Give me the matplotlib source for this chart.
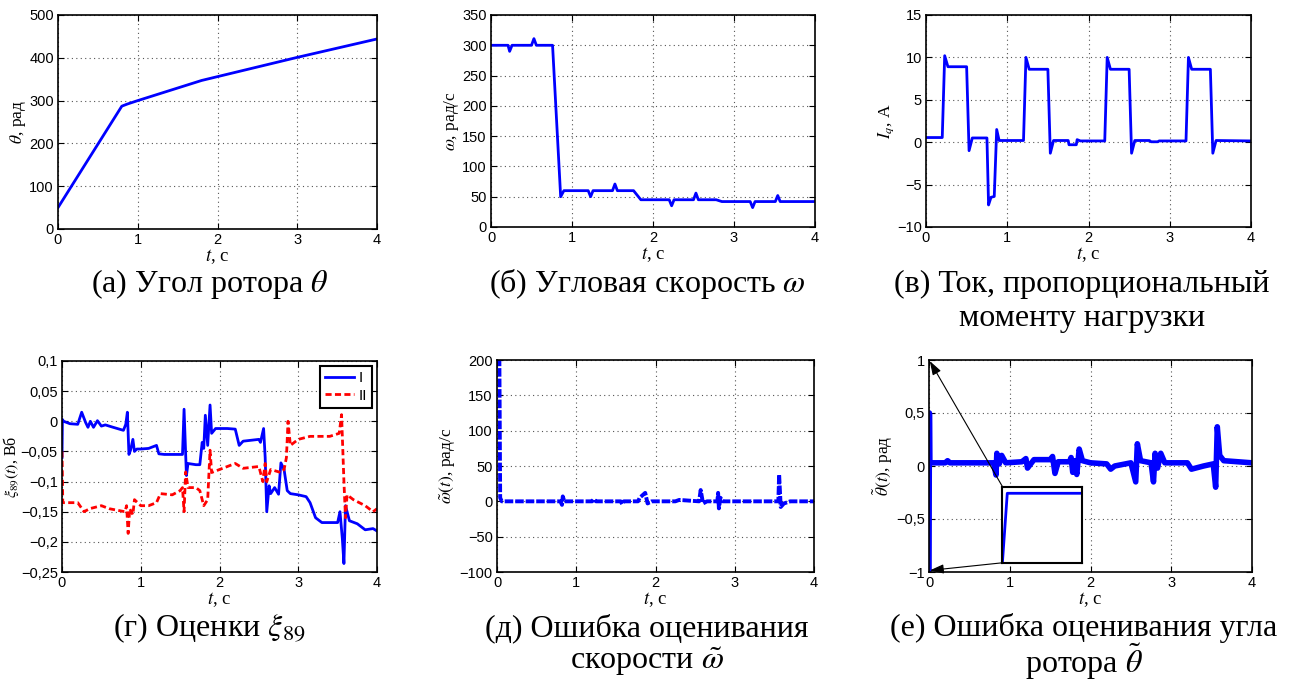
import matplotlib
matplotlib.use('Agg')
import matplotlib.pyplot as plt
from matplotlib.ticker import FuncFormatter

plt.rcParams['font.family'] = ['Liberation Sans', 'DejaVu Sans']
plt.rcParams['mathtext.fontset'] = 'stix'

# (а) rotor angle
t_theta = [0, 0.8, 0.87, 1.0, 1.8, 2.0, 2.8, 3.0, 4.0]
theta = [50, 287, 292, 300, 347, 356, 392, 401, 444]

# (б) angular speed
t_omega = [0, 0.21, 0.23, 0.26, 0.5, 0.53, 0.56, 0.76, 0.86, 0.9, 1.2, 1.23, 1.26, 1.5, 1.53,
           1.56, 1.76, 1.85, 2.2, 2.23, 2.26, 2.5, 2.53, 2.56, 2.78, 2.85, 3.2, 3.23, 3.26,
           3.51, 3.54, 3.57, 4.0]
omega = [300, 300, 290, 300, 300, 311, 300, 300, 50, 60, 60, 50, 60, 60, 71,
         60, 60, 45, 45, 35, 45, 45, 56, 45, 45, 42, 42, 32, 42,
         42, 52, 42, 42]

# (в) current Iq
t_iq = [0, 0.2, 0.23, 0.27, 0.5, 0.53, 0.57, 0.75, 0.77, 0.8, 0.84, 0.87, 0.9, 1.2, 1.23, 1.27,
        1.5, 1.53, 1.57, 1.75, 1.76, 1.85, 1.86, 1.9, 2.2, 2.23, 2.27, 2.5, 2.53, 2.57, 2.75,
        2.77, 2.85, 2.87, 3.2, 3.23, 3.27, 3.5, 3.53, 3.57, 4.0]
iq = [0.55, 0.55, 10.2, 8.9, 8.9, -1.0, 0.5, 0.5, -7.4, -6.5, -6.4, 1.5, 0.2, 0.2, 10.0, 8.6,
      8.6, -1.3, 0.2, 0.2, -0.3, -0.3, 0.3, 0.15, 0.15, 10.0, 8.6, 8.6, -1.3, 0.2, 0.2,
      0.05, 0.05, 0.15, 0.15, 10.0, 8.6, 8.6, -1.3, 0.2, 0.15]

# (г) estimates xi_89, variant I
t_xi1 = [0, 0.005, 0.02, 0.1, 0.2, 0.25, 0.3, 0.33, 0.36, 0.4, 0.45, 0.5, 0.55, 0.65, 0.78, 0.81,
         0.83, 0.85, 0.87, 0.9, 0.92, 0.95, 1.0, 1.1, 1.2, 1.23, 1.3, 1.45, 1.53, 1.55, 1.58,
         1.6, 1.7, 1.75, 1.78, 1.8, 1.82, 1.85, 1.88, 1.9, 1.95, 2.1, 2.2, 2.25, 2.3, 2.5, 2.52,
         2.56, 2.58, 2.6, 2.63, 2.65, 2.7, 2.75, 2.78, 2.82, 2.86, 2.9, 3.0, 3.1, 3.15, 3.22,
         3.3, 3.5, 3.53, 3.56, 3.58, 3.6, 3.65, 3.75, 3.85, 3.95, 4.0]
xi1 = [-0.06, 0.003, 0.0, -0.004, -0.005, 0.015, -0.002, -0.01, 0.0, -0.01, 0.001, -0.008,
       -0.006, -0.01, -0.015, -0.005, 0.015, -0.055, -0.048, -0.03, -0.05, -0.046, -0.046,
       -0.045, -0.04, -0.054, -0.055, -0.055, -0.055, 0.02, -0.09, -0.07, -0.072, -0.072,
       -0.035, -0.045, 0.01, -0.04, 0.027, -0.02, -0.012, -0.012, -0.013, -0.04, -0.033, -0.03,
       -0.035, -0.012, -0.06, -0.15, -0.107, -0.12, -0.11, -0.121, -0.069, -0.08, -0.115,
       -0.12, -0.122, -0.125, -0.135, -0.16, -0.168, -0.168, -0.15, -0.195, -0.236, -0.14,
       -0.165, -0.17, -0.18, -0.178, -0.182]

# (г) estimates xi_89, variant II
t_xi2 = [0, 0.01, 0.2, 0.28, 0.35, 0.5, 0.6, 0.8, 0.82, 0.84, 0.86, 0.9, 0.92, 1.0, 1.1, 1.2,
         1.25, 1.4, 1.5, 1.53, 1.55, 1.57, 1.6, 1.7, 1.75, 1.8, 1.85, 1.88, 1.9, 2.0, 2.2, 2.3,
         2.5, 2.55, 2.58, 2.6, 2.65, 2.78, 2.82, 2.85, 2.87, 2.9, 3.0, 3.15, 3.4, 3.52, 3.55,
         3.58, 3.6, 3.62, 3.7, 3.85, 3.95, 4.0]
xi2 = [-0.05, -0.135, -0.135, -0.15, -0.145, -0.14, -0.145, -0.15, -0.14, -0.186, -0.145,
       -0.155, -0.13, -0.14, -0.14, -0.135, -0.12, -0.122, -0.115, -0.11, -0.15, -0.084,
       -0.11, -0.11, -0.115, -0.14, -0.13, -0.048, -0.085, -0.08, -0.07, -0.078, -0.075,
       -0.1, -0.07, -0.1, -0.08, -0.085, -0.08, -0.06, 0.0, -0.04, -0.03, -0.025, -0.025,
       -0.02, 0.011, -0.1, -0.16, -0.122, -0.13, -0.14, -0.15, -0.145]

# (д) speed estimation error
t_werr = [0, 0.03, 0.04, 0.06, 0.8, 0.82, 0.83, 0.85, 1.2, 1.22, 1.25, 1.56, 1.58, 1.6, 1.78,
          1.8, 1.87, 1.9, 1.95, 2.25, 2.3, 2.55, 2.57, 2.6, 2.65, 2.78, 2.79, 2.8, 2.82, 2.85,
          3.55, 3.56, 3.58, 3.62, 3.7, 4.0]
werr = [200, 200, 5, 0, 0, -5, 7, 0, 0, 3, 0, 0, -4, 0, 0, 5, 12, -3, 0, 0, 2, 0, 16, -3,
        0, 0, 12, -10, 5, 0, 0, 38, -8, -3, 0, 0]

# (е) angle estimation error
t_therr = [0, 0.005, 0.01, 0.2, 0.23, 0.26, 0.8, 0.83, 0.84, 0.87, 0.9, 0.95, 1.15, 1.2, 1.22,
           1.3, 1.5, 1.53, 1.56, 1.6, 1.74, 1.76, 1.78, 1.8, 1.83, 1.86, 1.9, 2.0, 2.2, 2.25,
           2.3, 2.5, 2.56, 2.58, 2.62, 2.75, 2.78, 2.8, 2.83, 2.87, 2.92, 3.2, 3.25, 3.4, 3.52,
           3.55, 3.57, 3.6, 3.65, 4.0]
therr = [-1.0, 0.5, 0.03, 0.03, 0.05, 0.03, 0.03, -0.085, 0.12, 0.02, 0.1, 0.03, 0.04, 0.07,
         -0.02, 0.06, 0.06, 0.09, -0.07, 0.04, 0.04, 0.08, -0.06, 0.05, -0.08, 0.16, 0.05,
         0.03, 0.02, -0.03, 0.0, 0.03, -0.15, 0.21, 0.05, 0.03, -0.15, 0.12, -0.02, 0.12,
         0.03, 0.03, -0.03, 0.0, 0.02, -0.2, 0.37, 0.1, 0.05, 0.03]

# zoomed start of the angle error (inset)
t_zoom = [0, 0.00012, 0.002]
therr_zoom = [-0.98, 0.05, 0.05]

x_ticks = [0, 1, 2, 3, 4]
blue = '#0000ff'
red = '#ff0000'
serif = ['Liberation Serif', 'DejaVu Serif']


def comma(v, pos=None):
    s = f'{v:g}'.replace('.', ',')
    return s.replace('-', '\u2212')


def style(ax, ylim, yticks, ylabel, ysize=12.5):
    ax.set_xlim(0, 4)
    ax.set_ylim(*ylim)
    ax.set_xticks(x_ticks)
    ax.set_yticks(yticks)
    ax.yaxis.set_major_formatter(FuncFormatter(comma))
    ax.xaxis.set_major_formatter(FuncFormatter(comma))
    ax.tick_params(direction='in', top=True, right=True, length=4, width=0.8,
                   labelsize=10.5, pad=3)
    ax.grid(True, linestyle=(0, (1, 3)), color='#555555', linewidth=0.8)
    for sp in ax.spines.values():
        sp.set_linewidth(1.2)
    ax.set_xlabel(r'$t$, с', family=serif, fontsize=13.5, labelpad=0)
    ax.set_ylabel(ylabel, family=serif, fontsize=ysize, labelpad=1)


fig = plt.figure(figsize=(12.91, 6.81), dpi=100)

ax1 = fig.add_axes([58 / 1291, 1 - 229 / 681, 319 / 1291, 214 / 681])
ax1.plot(t_theta, theta, color=blue, lw=2)
style(ax1, (0, 500), [0, 100, 200, 300, 400, 500], r'$\theta$, рад')

ax2 = fig.add_axes([491 / 1291, 1 - 227 / 681, 324 / 1291, 212 / 681])
ax2.plot(t_omega, omega, color=blue, lw=2)
style(ax2, (0, 350), [0, 50, 100, 150, 200, 250, 300, 350], r'$\omega$, рад/с')

ax3 = fig.add_axes([926 / 1291, 1 - 227 / 681, 325 / 1291, 212 / 681])
ax3.plot(t_iq, iq, color=blue, lw=2)
style(ax3, (-10, 15), [-10, -5, 0, 5, 10, 15], r'$I_q$, А')

ax4 = fig.add_axes([62 / 1291, 1 - 572 / 681, 315 / 1291, 211 / 681])
ax4.plot(t_xi1, xi1, color=blue, lw=2, label='I')
ax4.plot(t_xi2, xi2, color=red, lw=2, ls=(0, (2.2, 1.2)), label='II')
style(ax4, (-0.25, 0.1), [-0.25, -0.2, -0.15, -0.1, -0.05, 0, 0.05, 0.1],
      r'$\xi_{89}(t)$, Вб', ysize=11.5)
ax4.yaxis.labelpad = 0
leg = ax4.legend(loc='upper right', fontsize=11, fancybox=False, framealpha=1,
                 handlelength=1.9, borderpad=0.35, labelspacing=0.25,
                 borderaxespad=0.3, handletextpad=0.3)
leg.get_frame().set_edgecolor('black')
leg.get_frame().set_linewidth(1.5)

ax5 = fig.add_axes([497 / 1291, 1 - 572 / 681, 317 / 1291, 212 / 681])
ax5.plot(t_werr, werr, color=blue, lw=2.8, ls=(0, (2.2, 0.5)))
style(ax5, (-100, 200), [-100, -50, 0, 50, 100, 150, 200],
      r'$\tilde{\omega}(t)$, рад/с')

ax6 = fig.add_axes([929 / 1291, 1 - 572 / 681, 323 / 1291, 212 / 681])
ax6.plot(t_therr, therr, color=blue, lw=4)
style(ax6, (-1, 1), [-1, -0.5, 0, 0.5, 1], r'$\tilde{\theta}(t)$, рад')

# magnified initial transient
ins = ax6.inset_axes([0.91, -0.913, 0.99, 0.718], transform=ax6.transData)
ins.plot(t_zoom, therr_zoom, color=blue, lw=2)
ins.set_xlim(0, 0.002)
ins.set_ylim(-1.0, 0.15)
ins.set_xticks([])
ins.set_yticks([])
for sp in ins.spines.values():
    sp.set_linewidth(1.5)
arrow = dict(arrowstyle='-|>,head_length=0.6,head_width=0.2', color='black', lw=0.8,
             mutation_scale=14, shrinkA=0, shrinkB=0)
ax6.annotate('', xy=(0.01, 0.99), xytext=(0.91, -0.195), arrowprops=arrow)
ax6.annotate('', xy=(0.01, -0.985), xytext=(0.91, -0.913), arrowprops=arrow)

# captions under each panel
cap = dict(family=serif, fontsize=23, ha='center', va='center')
fig.text(210 / 1291, 1 - 284 / 681, r'(а) Угол ротора $\theta$', **cap)
fig.text(647 / 1291, 1 - 284 / 681, r'(б) Угловая скорость $\omega$', **cap)
fig.text(1082 / 1291, 1 - 284 / 681, '(в) Ток, пропорциональный', **cap)
fig.text(1082 / 1291, 1 - 318 / 681, 'моменту нагрузки', **cap)
fig.text(209 / 1291, 1 - 628 / 681, r'(г) Оценки $\xi_{89}$', **cap)
fig.text(647 / 1291, 1 - 628 / 681, '(д) Ошибка оценивания', **cap)
fig.text(647 / 1291, 1 - 662 / 681, r'скорости $\tilde{\omega}$', **cap)
fig.text(1084 / 1291, 1 - 628 / 681, '(е) Ошибка оценивания угла', **cap)
fig.text(1084 / 1291, 1 - 662 / 681, r'ротора $\tilde{\theta}$', **cap)

fig.savefig('out.png', dpi=100)
